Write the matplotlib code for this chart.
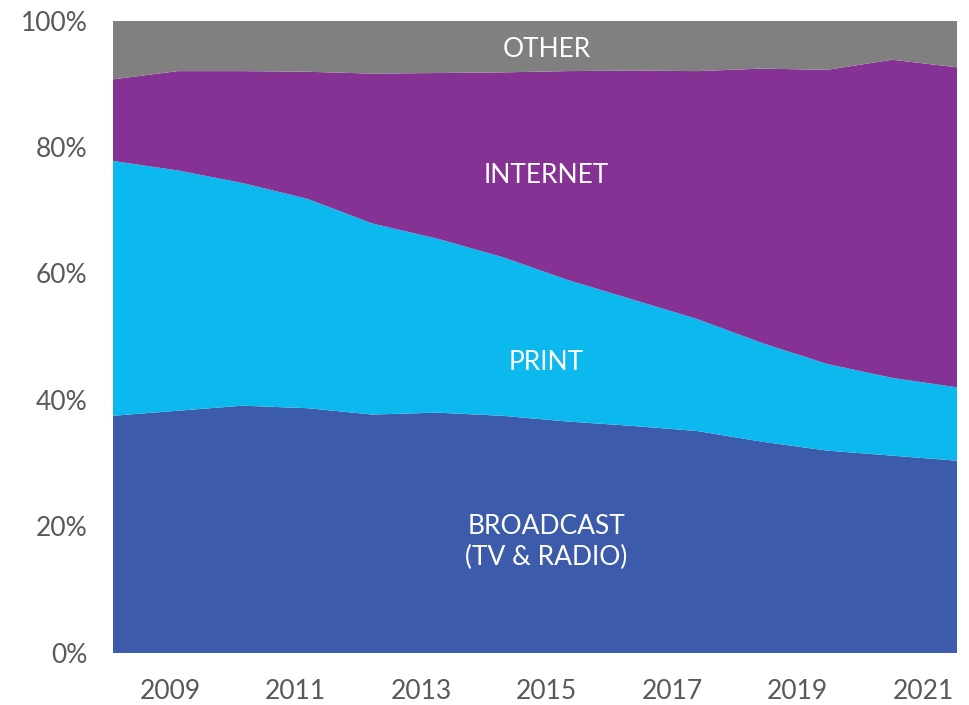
import matplotlib
matplotlib.use("Agg")
import matplotlib.pyplot as plt
import numpy as np

# Share of advertising spend by medium (%), 2008-2021
years = [2008, 2009, 2010, 2011, 2012, 2013, 2014, 2015, 2016, 2017, 2018, 2019, 2020, 2021]
broadcast = [37.5, 38.3, 39.1, 38.7, 37.7, 38.0, 37.5, 36.6, 35.9, 35.1, 33.4, 32.0, 31.2, 30.4]
print_top = [77.8, 76.3, 74.3, 71.8, 67.9, 65.5, 62.6, 59.0, 55.9, 52.8, 49.0, 45.7, 43.5, 42.0]
internet_top = [90.7, 92.0, 92.0, 91.9, 91.6, 91.7, 91.8, 92.0, 92.1, 92.0, 92.4, 92.2, 93.8, 92.6]

print_share = [p - b for p, b in zip(print_top, broadcast)]
internet = [i - p for i, p in zip(internet_top, print_top)]
other = [100 - i for i in internet_top]

tick_years = [2009, 2011, 2013, 2015, 2017, 2019, 2021]
y_ticks = [0, 20, 40, 60, 80, 100]

colors = ["#3C5BAA", "#0BB9EE", "#863294", "#808080"]
labels = ["BROADCAST\n(TV & RADIO)", "PRINT", "INTERNET", "OTHER"]

plt.rcParams["font.family"] = ["Lato", "DejaVu Sans"]

fig = plt.figure(figsize=(9.7, 7.05), dpi=100)
ax = fig.add_axes([0.1162, 0.0738, 0.8704, 0.8971])

ax.stackplot(years, broadcast, print_share, internet, other,
             colors=colors, linewidth=0, antialiased=True)

ax.set_xlim(years[0], years[-1])
ax.set_ylim(0, 100)

# year labels sit on a slightly compressed calendar scale
lab_lo, lab_hi = 2008.087, 2021.54
span = years[-1] - years[0]
tick_pos = [years[0] + (t - lab_lo) * span / (lab_hi - lab_lo) for t in tick_years]
ax.set_xticks(tick_pos)
ax.set_xticklabels([str(t) for t in tick_years])
ax.set_yticks(y_ticks)
ax.set_yticklabels([f"{v}%" for v in y_ticks])

ax.tick_params(axis="both", length=0, labelsize=19, colors="#595959")
ax.tick_params(axis="x", pad=19)
ax.tick_params(axis="y", pad=18)
for s in ax.spines.values():
    s.set_visible(False)

txt = dict(color="white", fontsize=19, ha="center", va="center",
           transform=ax.transAxes, linespacing=1.3)
ax.text(0.514, 1 - (49 - 20.5) / 632.5, labels[3], **txt)
ax.text(0.514, 1 - (175 - 20.5) / 632.5, labels[2], **txt)
ax.text(0.514, 1 - (363 - 20.5) / 632.5, labels[1], **txt)
ax.text(0.514, 1 - (542 - 20.5) / 632.5, labels[0], **txt)

fig.savefig("out.png", dpi=100)
